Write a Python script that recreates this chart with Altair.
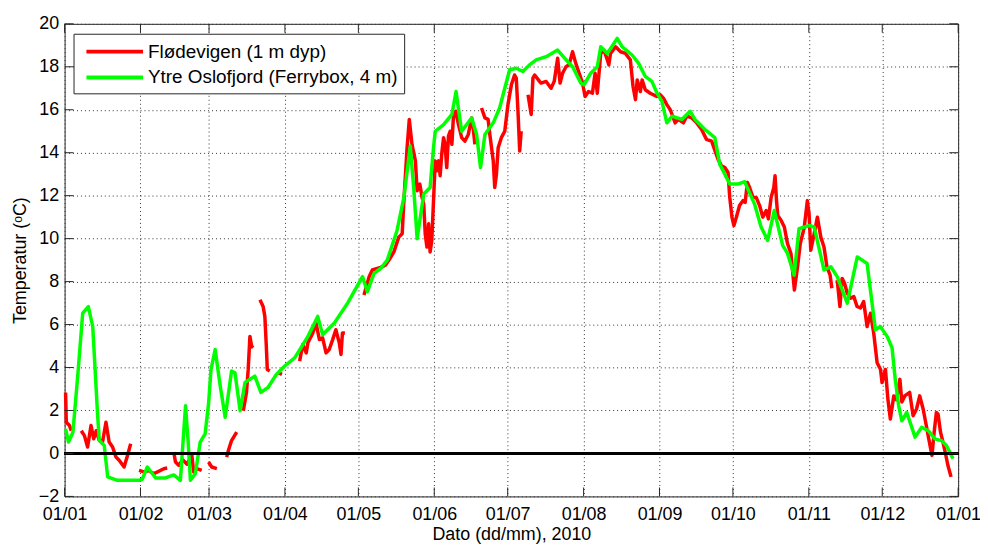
import altair as alt
import pandas as pd

# ---------------- data ----------------
series_names = ["Flødevigen (1 m dyp)", "Ytre Oslofjord (Ferrybox, 4 m)"]
series_colors = ["#ff0000", "#00ff00"]

# Ytre Oslofjord (Ferrybox, 4 m): day of year, temperature
green_day = [0.4, 1.6, 3.4, 5.5, 7.4, 9.7, 11.5, 13.5, 14.2, 16.2, 17.6, 21.6, 30.4, 31.7, 33.8,
             37.2, 41.2, 44.6, 47.3, 49.4, 50.4, 51.4, 53.4, 55.4, 57.4, 58.8, 59.8, 61.5, 63.5,
             65.6, 68.2, 69.6, 71.7, 73.7, 77.7, 80.2, 83.1, 86.5, 89.9, 94.0, 99.4, 103.4, 105.4,
             110.2, 115.6, 121.7, 123.7, 126.4, 129.1, 131.8, 135.8, 138.6, 141.2, 142.6, 144.0,
             146.7, 149.3, 150.7, 151.4, 154.8, 158.2, 159.9, 162.2, 166.3, 168.3, 169.9, 171.7,
             175.1, 177.7, 179.8, 181.8, 184.5, 187.2, 189.9, 192.6, 196.7, 201.4, 205.5, 207.5,
             210.9, 212.2, 214.9, 217.6, 219.0, 221.7, 225.7, 227.8, 231.8, 234.5, 237.2, 239.9,
             242.0, 244.0, 246.0, 248.1, 252.1, 255.5, 257.5, 261.6, 265.6, 267.6, 271.7, 275.0,
             277.8, 281.8, 284.5, 287.2, 289.9, 293.3, 295.3, 298.0, 300.0, 304.1, 306.2, 310.2,
             313.0, 315.6, 319.7, 323.8, 327.8, 331.2, 333.2, 336.0, 338.0, 339.3, 340.7, 342.0,
             344.0, 347.4, 350.1, 352.8, 355.5, 358.2, 360.2, 362.9]
green_temp = [1.14, 0.53, 0.99, 3.8, 6.53, 6.84, 5.9, 1.76, 0.6, 0.37, -1.09, -1.25, -1.25, -1.2, -0.63,
              -1.14, -1.14, -1.0, -1.25, 2.22, 0.68, -1.25, -0.94, 0.53, 0.91, 2.3, 3.9, 4.84, 3.2,
              1.68, 3.84, 3.76, 1.99, 3.3, 3.6, 2.84, 3.07, 3.68, 4.07, 4.45, 5.45, 6.38, 5.53,
              6.07, 7.0, 8.23, 7.53, 8.38, 8.61, 9.0, 10.38, 11.92, 14.31, 12.38, 10.0,
              12.08, 12.38, 14.24, 15.0, 15.31, 15.78, 16.85, 15.0, 15.62, 14.85, 13.31, 14.85,
              15.39, 16.08, 17.0, 17.86, 17.93, 17.78, 18.09, 18.32, 18.47, 18.78, 18.24, 18.0,
              17.24, 17.16, 17.7, 18.0, 18.93, 18.62, 19.32, 18.93, 18.55, 18.16, 17.55, 17.32,
              16.77, 16.39, 15.39, 15.7, 15.55, 15.93, 15.55, 15.08, 14.7, 13.47, 12.54, 12.54,
              12.65, 11.62, 10.54, 9.92, 11.31, 9.69, 9.31, 8.3, 10.46, 10.61, 10.54, 8.54,
              8.69, 8.23, 7.0, 9.15, 8.84, 5.76, 5.91, 5.45, 4.92, 3.45, 2.22, 1.52,
              1.91, 0.76, 1.22, 1.06, 0.68, 0.6, 0.37, -0.24]

# Flødevigen (1 m dyp): None marks a gap in the record
red_day = [0.4, 0.7, 2.0, 2.7, None,
           6.8, 8.1, 9.4, 10.8, 11.9, 12.9, 14.2, 15.5, 16.9, 18.2, 19.6, 21.0, 22.3, 24.3, 25.7, 27.0, None,
           30.4, 32.4, 34.4, 36.5, 38.5, 40.5, 41.9, None,
           44.6, 45.3, 46.6, 48.3, 50.0, 52.0, 52.7, 54.0, 56.0, None,
           58.8, 60.1, 62.2, None,
           66.2, 66.9, 68.2, 70.3, None,
           73.0, 74.3, 75.0, 75.7, 76.4, 77.0, None,
           79.8, 81.1, 81.8, 82.4, 82.8, 83.8, None,
           87.2, 88.8, None,
           96.0, 97.3, 98.7, 99.4, 101.4, 102.7, 104.1, 105.4, 106.8, 108.1, 109.5, 110.8, 112.2, 112.9,
           113.5, 114.5, None,
           122.3, 124.4, 125.7, 129.1, 131.1, 132.5, 134.5, 136.5, 137.9, 138.6, 139.9, 140.8, 141.9,
           143.3, 144.0, 145.1, 146.0, 146.7, 147.3, 148.0, 148.7, 149.3, 150.0, 150.7, 151.4, 152.1,
           152.8, 153.4, 154.1, 154.8, 155.4, 156.1, 156.8, 157.5, 158.2, 158.8, 159.8, 160.9, 162.2,
           163.5, 164.9, 166.3, 166.9, 167.6, None,
           170.3, 171.7, 173.0, 173.7, 175.1, 175.7, 176.4, 177.1, 178.4, 179.8, 181.1, 182.5, 183.8,
           184.5, 185.2, 185.9, 186.5, None,
           189.3, 190.6, 191.3, 192.0, 194.0, 194.6, 196.7, 198.7, 200.0, 201.4, 202.4, 203.4, 204.8,
           206.1, 207.5, 208.8, 210.2, 211.6, 212.6, 214.0, 215.6, 216.7, 217.6, 219.0, 220.3, 221.7,
           222.3, 223.0, 225.1, 227.1, 229.1, 231.1, 232.2, 233.2, 233.9, 235.2, 235.9, 237.2, 239.2,
           241.9, 243.3, 244.6, 246.0, 247.4, 249.4, 250.7, 252.8, 254.1, 256.2, 258.2, 260.2, 262.2,
           264.3, 266.9, 268.3, 269.7, 271.0, 271.7, 272.6, 273.4, 274.4, 275.7, 277.1, 278.0, 278.9,
           279.8, 281.2, 282.5, 283.9, 285.2, 286.6, 287.5, 288.6, 289.7, 290.2, 290.8, 291.3, 292.7,
           294.0, 295.3, 296.7, 298.1, 299.4, 300.5, 302.1, 303.4, 304.1, 304.8, 306.2, 307.5, 308.9,
           310.2, 311.4, 312.7, 313.4, None,
           315.6, 316.7, 317.6, 318.6, 319.7, 321.1, 322.4, 323.7, 325.1, 326.4, 327.8, 329.2, 330.5,
           331.9, 333.3, 333.9, 335.3, 336.3, 337.3, 338.7, 339.8, 341.2, 342.0, 343.2, 345.2, 346.6,
           348.0, 349.3, 350.7, 352.0, 353.0, 354.3, 355.2, 356.1, 356.8, 357.8, 358.8, 359.7, 360.8,
           362.1]
red_temp = [2.84, 1.45, 1.3, 1.06, None,
            1.06, 0.83, 0.3, 1.3, 0.68, 1.06, 0.6, 0.53, 1.45, 0.53, 0.3, -0.17, -0.32, -0.63, -0.09, 0.45, None,
            -0.79, -0.86, -0.8, -0.94, -0.83, -0.71, -0.68, None,
            0.06, -0.4, -0.55, -0.3, -0.5, -0.09, -0.86, -0.71, -0.79, None,
            -0.4, -0.63, -0.71, None,
            -0.17, 0.14, 0.6, 0.99, None,
            1.99, 2.84, 3.91, 5.45, 4.99, 4.92, None,
            7.15, 6.84, 6.38, 4.99, 3.91, 3.84, None,
            3.76, 3.68, None,
            4.3, 5.07, 4.68, 5.15, 5.61, 6.07, 5.3, 5.38, 4.68, 4.84, 5.3, 5.76, 5.15, 4.61,
            5.61, 5.61, None,
            7.38, 8.23, 8.54, 8.66, 8.77, 9.0, 9.38, 10.07, 10.23, 11.77, 14.23, 15.55, 14.39,
            13.62, 12.23, 12.54, 11.92, 11.62, 10.23, 9.61, 10.69, 9.38, 9.92, 11.77, 13.62, 13.16,
            13.62, 12.93, 14.0, 14.7, 14.39, 13.31, 14.77, 15.0, 14.39, 15.62, 15.93, 15.31, 14.7,
            14.54, 14.85, 15.62, 15.16, 14.39, None,
            16.08, 15.62, 15.55, 14.85, 13.62, 12.38, 13.0, 14.23, 14.7, 15.0, 16.24, 17.16, 17.62,
            17.47, 15.93, 14.08, 15.0, None,
            16.7, 15.78, 17.47, 17.62, 17.32, 17.24, 17.32, 17.0, 17.32, 18.4, 17.24, 17.7, 18.0,
            18.1, 18.7, 18.16, 17.7, 17.24, 16.62, 16.85, 16.77, 17.7, 16.77, 18.62, 18.78, 18.32,
            18.09, 18.62, 18.93, 18.7, 18.62, 18.32, 17.08, 16.47, 17.39, 16.85, 17.39, 16.93, 16.77,
            16.62, 16.7, 16.54, 16.24, 16.0, 15.39, 15.55, 15.39, 15.7, 15.62, 15.39, 15.08, 14.62,
            14.54, 13.7, 13.39, 13.31, 13.08, 11.92, 11.0, 10.61, 11.0, 11.54, 11.77, 11.69, 12.62,
            12.38, 11.92, 11.92, 11.54, 11.0, 11.31, 10.92, 11.92, 12.38, 12.93, 11.77, 11.08, 10.85,
            10.54, 9.77, 9.31, 7.61, 8.69, 9.77, 10.5, 11.77, 11.16, 9.46, 10.23, 11.0, 10.07,
            9.61, 8.69, 8.3, 7.69, None,
            8.07, 6.84, 8.15, 7.92, 7.46, 7.23, 7.3, 6.84, 6.77, 7.07, 5.91, 6.53, 5.61,
            4.22, 3.91, 3.3, 3.91, 2.53, 1.6, 2.68, 2.5, 3.45, 2.4, 2.68, 2.84, 1.76,
            2.07, 2.68, 2.07, 1.29, 0.68, -0.09, 0.99, 1.91, 1.83, 0.99, 0.53, 0.06, -0.55,
            -1.09]

month_days = [0, 31, 59, 90, 120, 151, 181, 212, 243, 273, 304, 334, 365]
month_labels = ["01/01", "01/02", "01/03", "01/04", "01/05", "01/06", "01/07",
                "01/08", "01/09", "01/10", "01/11", "01/12", "01/01"]
temp_ticks = [-2, 0, 2, 4, 6, 8, 10, 12, 14, 16, 18, 20]

# ---------------- tables ----------------
seg, rows = 0, []
for d, t in zip(red_day, red_temp):
    if d is None:
        seg += 1
        continue
    rows.append({"day": d, "temp": t, "seg": seg, "series": series_names[0]})
red_df = pd.DataFrame(rows)
green_df = pd.DataFrame({"day": green_day, "temp": green_temp, "series": series_names[1]})
xt_df = pd.DataFrame({"day": month_days})
yt_df = pd.DataFrame({"temp": temp_ticks})

FONT = "Liberation Sans"
FS = 18
W, H = 900, 476
label_expr = "[" + ",".join(f"'{l}'" for l in month_labels) + "][indexof([" + \
    ",".join(str(v) for v in month_days) + "], datum.value)]"

xscale = alt.Scale(domain=[0, 365], nice=False, zero=False)
yscale = alt.Scale(domain=[-2, 20], nice=False, zero=False)
color = alt.Color("series:N", scale=alt.Scale(domain=series_names, range=series_colors),
                  legend=alt.Legend(title=None, orient="none", legendX=9, legendY=10,
                                    fillColor="white", strokeColor="#262626", padding=6,
                                    symbolType="M-0.5,0L5.2,0", symbolSize=400, symbolStrokeWidth=4,
                                    labelFont=FONT, labelFontSize=19, labelColor="black",
                                    labelOffset=45, rowPadding=4, labelLimit=500))

xaxis = alt.Axis(values=month_days, labelExpr=label_expr, title="Dato (dd/mm), 2010",
                 grid=True, ticks=False, domain=False, labelPadding=9, titlePadding=2,
                 labelFlush=False)
yaxis = alt.Axis(values=temp_ticks, title="Temperatur (ᵒC)", grid=True, ticks=False,
                 domain=False, labelPadding=6, titlePadding=9, labelFlush=False)

base_x = alt.X("day:Q", scale=xscale, axis=xaxis)
base_y = alt.Y("temp:Q", scale=yscale, axis=yaxis)

red = alt.Chart(red_df).mark_line(strokeWidth=3.5, strokeJoin="round").encode(
    x=base_x, y=base_y, color=color, detail="seg:N", order="day:Q")
green = alt.Chart(green_df).mark_line(strokeWidth=3.5, strokeJoin="round").encode(
    x=alt.X("day:Q", scale=xscale), y=alt.Y("temp:Q", scale=yscale), color=color, order="day:Q")
zero = alt.Chart(yt_df).mark_rule(color="black", strokeWidth=3).encode(
    y=alt.datum(0, scale=yscale))

tick_color = "#262626"
xt_bot = alt.Chart(xt_df).mark_rule(color=tick_color).encode(
    x=alt.X("day:Q", scale=xscale), y=alt.value(H), y2=alt.value(H - 9))
xt_top = alt.Chart(xt_df).mark_rule(color=tick_color).encode(
    x=alt.X("day:Q", scale=xscale), y=alt.value(0), y2=alt.value(9))
yt_left = alt.Chart(yt_df).mark_rule(color=tick_color).encode(
    y=alt.Y("temp:Q", scale=yscale), x=alt.value(0), x2=alt.value(9))
yt_right = alt.Chart(yt_df).mark_rule(color=tick_color).encode(
    y=alt.Y("temp:Q", scale=yscale), x=alt.value(W), x2=alt.value(W - 9))

chart = alt.layer(red, green, zero, xt_bot, xt_top, yt_left, yt_right).properties(
    width=W, height=H,
    autosize=alt.AutoSizeParams(type="none"),
    padding={"left": 57, "top": 14, "right": 22, "bottom": 48},
).configure(background="white").configure_view(
    stroke="#262626", strokeWidth=1
).configure_axis(
    gridColor="#333333", gridDash=[1, 3], gridOpacity=1, gridWidth=1,
    labelFont=FONT, labelFontSize=FS, labelColor="black",
    titleFont=FONT, titleFontSize=FS, titleFontWeight="normal", titleColor="black",
)

chart.save("out.html", embed_options={"renderer": "svg", "actions": False})
